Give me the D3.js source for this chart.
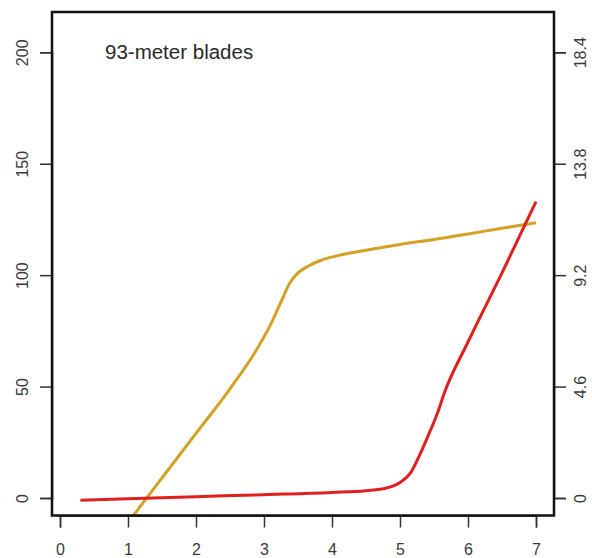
<!DOCTYPE html>
<html>
<head>
<meta charset="utf-8">
<script src="https://cdn.jsdelivr.net/npm/d3@7"></script>
<style>
  body { margin: 0; background: #fff; }
  text { font-family: "Liberation Sans", Arial, sans-serif; fill: #3a3a3a; }
</style>
</head>
<body>
<script>
// data
const goldX = [1.0, 1.5, 2.0, 2.5, 2.9, 3.1, 3.25, 3.38, 3.5, 3.65, 3.85, 4.05, 4.5, 5.0, 5.5, 6.0, 6.5, 7.0];
const goldY = [-11, 9, 29, 49, 67, 78, 88, 96.5, 101, 104, 106.8, 108.5, 111.2, 113.8, 116, 118.5, 121, 123.5];

const redX = [0.3, 1, 2, 3, 4, 4.5, 4.8, 5.0, 5.15, 5.3, 5.4, 5.55, 5.65, 6.0, 6.5, 7.0];
const redY = [-1, -0.3, 0.6, 1.5, 2.5, 3.3, 4.5, 7, 11, 20, 27, 38, 47, 70, 101, 133];

const xTicks = [0, 1, 2, 3, 4, 5, 6, 7];
const leftTicks = [0, 50, 100, 150, 200];
const rightTicks = [0, 4.6, 9.2, 13.8, 18.4];
const label = '93-meter blades';

const W = 592, H = 558;
const box = { left: 52, right: 554, top: 12, bottom: 515.5 };

// scales
const x = d3.scaleLinear().domain([0, 7]).range([60, 536]);
const y = d3.scaleLinear().domain([0, 200]).range([498, 52.3]);
const y2 = d3.scaleLinear().domain([0, 18.4]).range([498, 52.3]);

const svg = d3.select('body').append('svg')
              .attr('width', W)
              .attr('height', H);

svg.append('clipPath').attr('id', 'clip')
   .append('rect')
   .attr('x', box.left).attr('y', box.top)
   .attr('width', box.right - box.left).attr('height', box.bottom - box.top);

const line = d3.line()
               .x(d => x(d[0]))
               .y(d => y(d[1]))
               .curve(d3.curveMonotoneX);

const gold = goldX.map((v, i) => [v, goldY[i]]);
const red = redX.map((v, i) => [v, redY[i]]);

const plot = svg.append('g').attr('clip-path', 'url(#clip)');
plot.append('path').datum(gold)
    .attr('d', line)
    .attr('fill', 'none')
    .attr('stroke', '#d4a127')
    .attr('stroke-width', 3);
plot.append('path').datum(red)
    .attr('d', line)
    .attr('fill', 'none')
    .attr('stroke', '#e0201e')
    .attr('stroke-width', 3);

// x axis
const gx = svg.append('g').attr('transform', 'translate(0,' + box.bottom + ')')
              .call(d3.axisBottom(x).tickValues(xTicks).tickSizeOuter(0)
              .tickSize(12).tickPadding(16).tickFormat(d3.format('d')));
gx.selectAll('text').style('font-size', '16px');

// left axis, rotated labels
const gl = svg.append('g').attr('transform', 'translate(' + box.left + ',0)')
              .call(d3.axisLeft(y).tickValues(leftTicks).tickSizeOuter(0).tickSize(12));
gl.selectAll('text')
  .attr('x', 0).attr('y', -24).attr('dy', null)
  .attr('text-anchor', 'middle')
  .attr('transform', 'rotate(-90)')
  .style('font-size', '16px');

// right axis
const gr = svg.append('g').attr('transform', 'translate(' + box.right + ',0)')
              .call(d3.axisRight(y2).tickValues(rightTicks).tickSizeOuter(0).tickSize(12)
              .tickFormat(d => d));
gr.selectAll('text')
  .attr('x', 0).attr('y', 32).attr('dy', null)
  .attr('text-anchor', 'middle')
  .attr('transform', 'rotate(-90)')
  .style('font-size', '16px');

svg.selectAll('.domain').attr('stroke', '#222').attr('stroke-width', 1.5);
svg.selectAll('.tick line').attr('stroke', '#333').attr('stroke-width', 1.5);

// frame
svg.append('rect')
   .attr('x', box.left).attr('y', box.top)
   .attr('width', box.right - box.left).attr('height', box.bottom - box.top)
   .attr('fill', 'none')
   .attr('stroke', '#111')
   .attr('stroke-width', 2.5);

svg.append('text')
   .attr('x', 105).attr('y', 59)
   .style('font-size', '20.5px')
   .style('fill', '#2a2a2a')
   .text(label);
</script>
</body>
</html>
